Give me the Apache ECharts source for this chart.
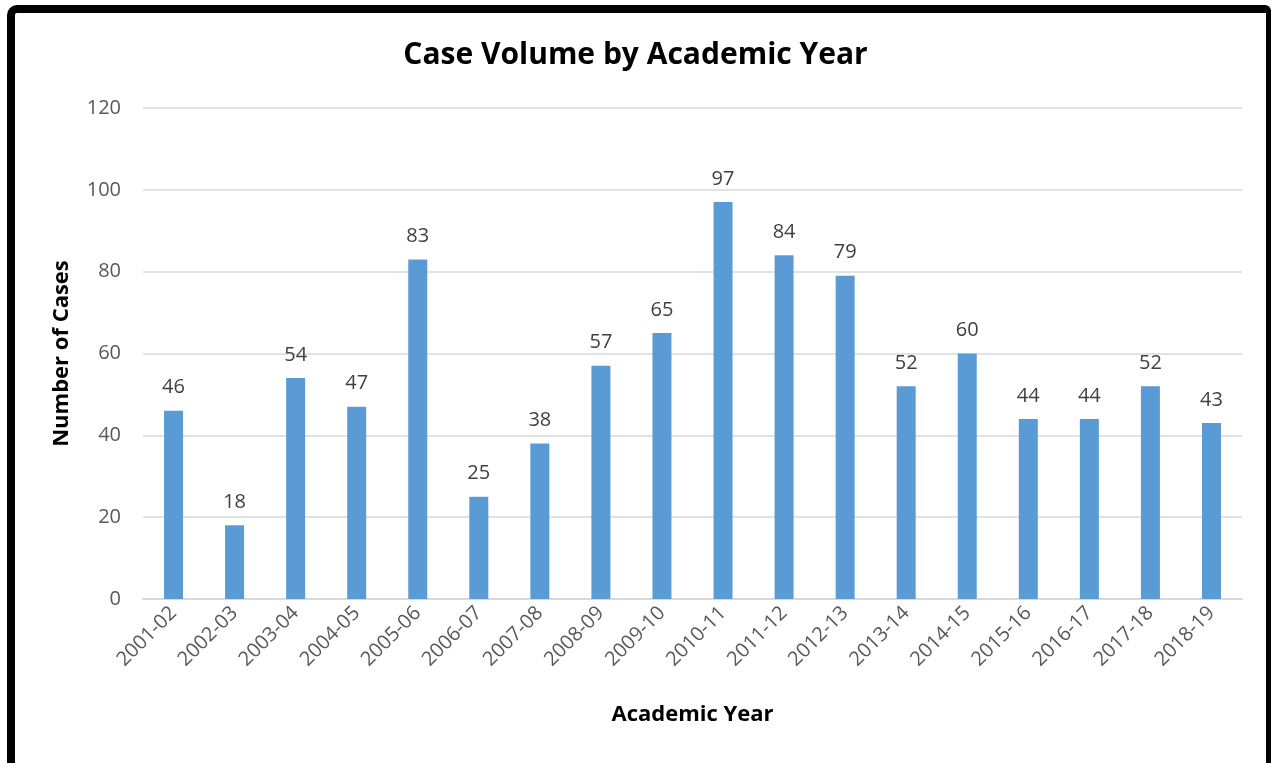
<!DOCTYPE html>
<html><head><meta charset="utf-8">
<script src="https://cdn.jsdelivr.net/npm/echarts@6/dist/echarts.min.js"></script>
<style>
html,body{margin:0;padding:0;background:#fff;}
#frame{position:absolute;left:7px;top:5px;width:1251px;height:760px;border-left:8px solid #000;border-top:8px solid #000;border-right:5px solid #000;border-radius:10px 6px 0 0;}
#main{position:absolute;left:0;top:0;width:1271px;height:763px;}
</style></head>
<body>
<div id="frame"></div>
<div id="main"></div>
<script>
const categories = ['2001-02','2002-03','2003-04','2004-05','2005-06','2006-07','2007-08','2008-09','2009-10','2010-11','2011-12','2012-13','2013-14','2014-15','2015-16','2016-17','2017-18','2018-19'];
const cases = [46,18,54,47,83,25,38,57,65,97,84,79,52,60,44,44,52,43];
const yTicks = {min:0,max:120,interval:20};

const chart = echarts.init(document.getElementById('main'));
const font = '"Open Sans", sans-serif';
chart.setOption({
  animation:false,
  title:{text:'Case Volume by Academic Year',left:'center',top:35,textStyle:{fontFamily:font,fontSize:30,fontWeight:'bold',color:'#000'}},
  grid:{left:143,right:29,top:108,bottom:164},
  xAxis:{type:'category',data:categories,
    name:'Academic Year',nameLocation:'middle',nameGap:105,
    nameTextStyle:{fontFamily:font,fontSize:22,fontWeight:'bold',color:'#000'},
    axisTick:{show:false},
    axisLine:{lineStyle:{color:'#d9d9d9',width:2}},
    axisLabel:{rotate:45,interval:0,fontFamily:font,fontSize:20,color:'#595959',margin:11}},
  yAxis:{type:'value',min:yTicks.min,max:yTicks.max,interval:yTicks.interval,
    name:'Number of Cases',nameLocation:'middle',nameGap:70,
    nameTextStyle:{fontFamily:font,fontSize:22,fontWeight:'bold',color:'#000'},
    axisLine:{show:false},axisTick:{show:false},
    splitLine:{lineStyle:{color:'#d9d9d9',width:1.5}},
    axisLabel:{fontFamily:font,fontSize:20,color:'#595959',margin:22}},
  series:[{type:'bar',data:cases,barWidth:19,
    itemStyle:{color:'#5b9bd5'},
    label:{show:true,position:'top',distance:13,fontFamily:font,fontSize:20,color:'#404040'}}]
});
</script>
</body></html>
